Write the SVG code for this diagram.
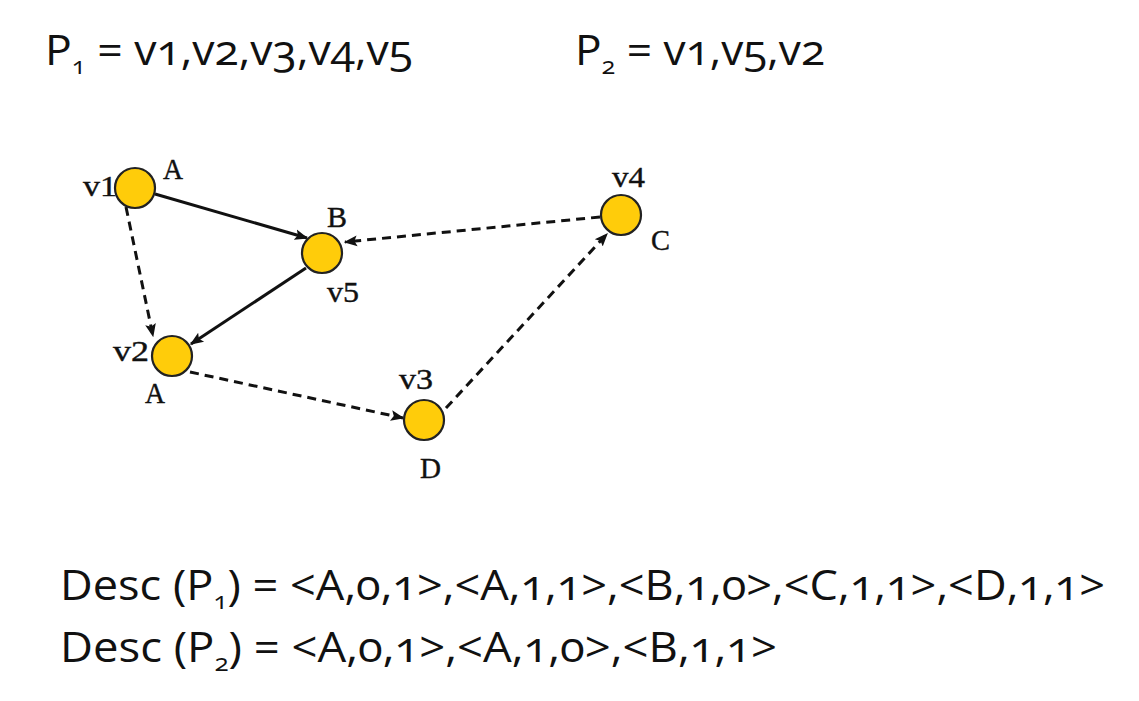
<svg xmlns="http://www.w3.org/2000/svg" width="1139" height="701" viewBox="0 0 1139 701">
<defs>
<style>
.big{font-family:"Open Sans","DejaVu Sans",sans-serif;font-size:42px;fill:#111;font-variant-numeric:oldstyle-nums;}
.sub{font-size:24px;}
.lbl{font-family:"Liberation Serif","Times New Roman",serif;font-size:30px;fill:#111;stroke:#111;stroke-width:0.4;}
.node{fill:#FFCC0A;stroke:#222;stroke-width:2.2;}
.edge{stroke:#111;stroke-width:3;fill:none;marker-end:url(#ah);}
.dash{stroke-dasharray:9 6;}
</style>
<marker id="ah" viewBox="0 0 10 10" refX="9" refY="5" markerWidth="4.5" markerHeight="4.5" orient="auto" markerUnits="strokeWidth">
<path d="M0,1 L10,5 L0,9 L2,5 Z" fill="#111"/>
</marker>
</defs>
<rect width="1139" height="701" fill="#fff"/>
<g id="connectors">
<line class="edge" x1="155" y1="194" x2="307" y2="238"/>
<line class="edge" x1="306" y1="268" x2="191" y2="344"/>
<line class="edge dash" x1="126" y1="207" x2="153" y2="336"/>
<line class="edge dash" x1="600" y1="217" x2="345" y2="242"/>
<line class="edge dash" x1="190" y1="372" x2="403" y2="418"/>
<line class="edge dash" x1="446" y1="408" x2="607" y2="234"/>
</g>
<g id="v1"><circle class="node" cx="135" cy="188" r="20"/><text class="lbl" x="83" y="196" textLength="34" lengthAdjust="spacingAndGlyphs">v1</text><text class="lbl" x="163" y="179" textLength="20" lengthAdjust="spacingAndGlyphs">A</text></g>
<g id="v5"><circle class="node" cx="322" cy="253" r="20"/><text class="lbl" x="327" y="227" textLength="20" lengthAdjust="spacingAndGlyphs">B</text><text class="lbl" x="327" y="302" textLength="32" lengthAdjust="spacingAndGlyphs">v5</text></g>
<g id="v2"><circle class="node" cx="172" cy="356" r="20"/><text class="lbl" x="113" y="361" textLength="36" lengthAdjust="spacingAndGlyphs">v2</text><text class="lbl" x="145" y="403" textLength="20" lengthAdjust="spacingAndGlyphs">A</text></g>
<g id="v3"><circle class="node" cx="424" cy="420" r="20"/><text class="lbl" x="399" y="389" textLength="34" lengthAdjust="spacingAndGlyphs">v3</text><text class="lbl" x="420" y="478" textLength="21" lengthAdjust="spacingAndGlyphs">D</text></g>
<g id="v4"><circle class="node" cx="621" cy="215" r="20"/><text class="lbl" x="612" y="187" textLength="33" lengthAdjust="spacingAndGlyphs">v4</text><text class="lbl" x="651" y="250" textLength="19" lengthAdjust="spacingAndGlyphs">C</text></g>
<g id="titles">
<text class="big" x="45" y="65" textLength="368" lengthAdjust="spacingAndGlyphs">P<tspan class="sub" dy="9">1</tspan><tspan dy="-9"> = v1,v2,v3,v4,v5</tspan></text>
<text class="big" x="575" y="65" textLength="250" lengthAdjust="spacingAndGlyphs">P<tspan class="sub" dy="9">2</tspan><tspan dy="-9"> = v1,v5,v2</tspan></text>
<text class="big" x="60" y="600" textLength="1045" lengthAdjust="spacingAndGlyphs">Desc (P<tspan class="sub" dy="9">1</tspan><tspan dy="-9">) = &lt;A,0,1&gt;,&lt;A,1,1&gt;,&lt;B,1,0&gt;,&lt;C,1,1&gt;,&lt;D,1,1&gt;</tspan></text>
<text class="big" x="60" y="662" textLength="717" lengthAdjust="spacingAndGlyphs">Desc (P<tspan class="sub" dy="9">2</tspan><tspan dy="-9">) = &lt;A,0,1&gt;,&lt;A,1,0&gt;,&lt;B,1,1&gt;</tspan></text>
</g>
</svg>
